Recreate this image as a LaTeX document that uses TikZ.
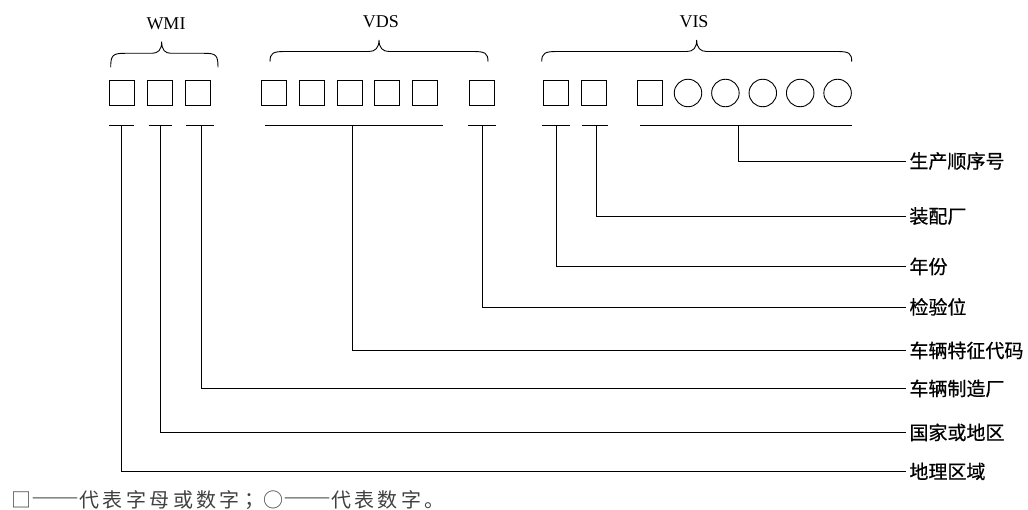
\documentclass[tikz,border=0pt]{standalone}
\usepackage{fontspec}
\setmainfont{Liberation Serif}
\newfontfamily\cjk[FakeBold=0.6]{Noto Sans CJK SC}
\newfontfamily\cjkleg[LetterSpace=17]{Noto Sans CJK SC}
\newfontfamily\cjkdash[CharacterWidth=Full]{Noto Sans CJK SC}
\begin{document}
\begin{tikzpicture}[x=1pt,y=-1pt,line width=0.9pt,
  sq/.style={draw,minimum width=25pt,minimum height=25pt,inner sep=0pt},
  cir/.style={draw,circle,minimum size=27.5pt,inner sep=0pt},
  grp/.style={font=\fontsize{18}{18}\selectfont,inner sep=0pt},
  lab/.style={font=\cjk\fontsize{19}{19}\selectfont,anchor=west,inner xsep=3pt,inner ysep=0pt,text height=16.7pt,text depth=2.3pt},
  conn/.style={line width=0.9pt}]
\useasboundingbox (0,0) rectangle (1028,510);
% group titles
\node[grp] (tw) at (166,23.5) {WMI};
\node[grp] (td) at (381,21.5) {VDS};
\node[grp] (ti) at (694,21.5) {VIS};
% braces
\draw (110.7,67.3) .. controls (110.7,55) and (113,53.3) .. (125,53.3) -- (152,53.3) .. controls (158,53.3) and (161.7,50) .. (161.7,41.7) .. controls (161.7,50) and (165,53.3) .. (171,53.3) -- (204,53.3) .. controls (216,53.3) and (218,55) .. (218,67.3);
\draw (270,61.7) .. controls (270,53) and (273,51.5) .. (285,51.5) -- (369,51.5) .. controls (375,51.5) and (379,48) .. (379,40) .. controls (379,48) and (383,51.5) .. (389,51.5) -- (473,51.5) .. controls (485,51.5) and (488,53) .. (488,61.7);
\draw (541.7,61.7) .. controls (541.7,53) and (545,51.5) .. (557,51.5) -- (687,51.5) .. controls (693,51.5) and (696.7,48) .. (696.7,40) .. controls (696.7,48) and (700.5,51.5) .. (706.5,51.5) -- (836.7,51.5) .. controls (849,51.5) and (851.7,53) .. (851.7,61.7);
% boxes
\node[sq] (b1) at (121.5,92.5) {};
\node[sq] (b2) at (159.5,92.5) {};
\node[sq] (b3) at (197.5,92.5) {};
\node[sq] (b4) at (274,92.5) {};
\node[sq] (b5) at (311.8,92.5) {};
\node[sq] (b6) at (349.6,92.5) {};
\node[sq] (b7) at (387.4,92.5) {};
\node[sq] (b8) at (425.2,92.5) {};
\node[sq] (b9) at (481.7,92.5) {};
\node[sq] (b10) at (556.3,92.5) {};
\node[sq] (b11) at (594.3,92.5) {};
\node[sq] (b12) at (650,92.5) {};
\node[cir] (c1) at (688,93) {};
\node[cir] (c2) at (725.4,93) {};
\node[cir] (c3) at (762.8,93) {};
\node[cir] (c4) at (800.2,93) {};
\node[cir] (c5) at (837.6,93) {};
% underlines
\draw (109,125) -- (134,125);
\draw (148.5,125) -- (172,125);
\draw (186,125) -- (214,125);
\draw (265,125) -- (443,125);
\draw (468,125) -- (496,125);
\draw (541.7,125) -- (570,125);
\draw (581.7,125) -- (608,125);
\draw (640,125) -- (852,125);
\coordinate (v1) at (121.7,125);
\coordinate (v2) at (160,125);
\coordinate (v3) at (201.7,125);
\coordinate (v4) at (352,125);
\coordinate (v5) at (482.3,125);
\coordinate (v6) at (556,125);
\coordinate (v7) at (596,125);
\coordinate (v8) at (738,125);
% labels
\node[lab] (l8) at (906,161) {生产顺序号};
\node[lab] (l7) at (906,216) {装配厂};
\node[lab] (l6) at (906,266.5) {年份};
\node[lab] (l5) at (906,307) {检验位};
\node[lab] (l4) at (906,350.5) {车辆特征代码};
\node[lab] (l3) at (906,388.5) {车辆制造厂};
\node[lab] (l2) at (906,432.5) {国家或地区};
\node[lab] (l1) at (906,471.5) {地理区域};
% connectors
\draw[conn] (v8) |- (l8.west);
\draw[conn] (v7) |- (l7.west);
\draw[conn] (v6) |- (l6.west);
\draw[conn] (v5) |- (l5.west);
\draw[conn] (v4) |- (l4.west);
\draw[conn] (v3) |- (l3.west);
\draw[conn] (v2) |- (l2.west);
\draw[conn] (v1) |- (l1.west);
% legend
\node[anchor=west,inner sep=0pt,text=black!75,font=\cjkleg\fontsize{20}{20}\selectfont] (leg) at (11,500) {□{\cjkdash\fontsize{24}{20}\selectfont ——}代表字母或数字{\cjkdash ;}\,○{\cjkdash\fontsize{24}{20}\selectfont ——}代表数字。};
\end{tikzpicture}
\end{document}
